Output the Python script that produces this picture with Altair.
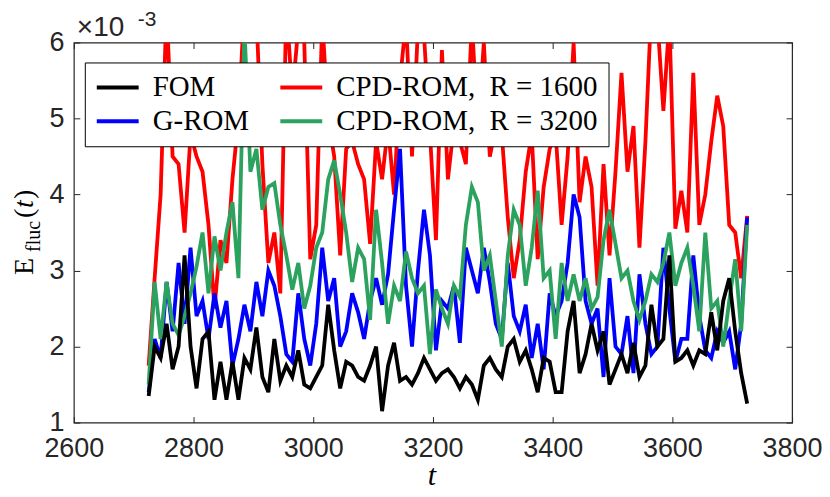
import altair as alt
import pandas as pd

# sample times (time units)
time = list(range(2725, 3726, 10))

fom = [1.35, 2.0, 1.85, 2.3, 1.7, 2.0, 3.2, 2.0, 1.45, 2.1,
       2.2, 1.3, 1.8, 1.3, 1.8, 1.3, 1.85, 1.7, 2.25, 1.6,
       1.4, 2.1, 1.55, 1.75, 1.6, 1.95, 1.5, 1.45, 1.6, 1.75,
       2.55, 1.95, 1.45, 1.8, 1.75, 1.6, 1.55, 1.75, 2.0, 1.15,
       1.75, 2.05, 1.55, 1.6, 1.5, 1.65, 1.85, 1.7, 1.55, 1.65,
       1.7, 1.6, 1.45, 1.6, 1.5, 1.3, 1.75, 1.85, 1.7, 1.6,
       2.0, 2.1, 1.8, 1.95, 1.7, 1.4, 1.85, 1.8, 1.4, 1.4,
       2.2, 2.6, 1.65, 1.9, 2.3, 1.95, 2.2, 1.5, 1.7, 1.9,
       1.65, 2.05, 1.6, 1.75, 2.55, 2.0, 2.1, 3.2, 1.8, 1.85,
       1.95, 1.75, 1.95, 1.9, 2.45, 1.95, 2.6, 2.9, 2.2, 1.65,
       1.25]

grom = [1.4, 2.1, 1.85, 2.85, 2.2, 3.1, 2.3, 3.3, 2.4, 2.6,
        2.1, 2.7, 2.25, 2.6, 1.75, 2.1, 2.55, 2.2, 2.85, 2.4,
        3.0, 2.8, 2.4, 1.9, 1.8, 2.7, 2.1, 1.75, 2.3, 3.3,
        2.6, 2.9, 2.0, 2.2, 2.7, 2.45, 2.1, 2.6, 2.9, 2.55,
        2.95, 3.8, 4.6, 2.8, 2.0, 3.0, 3.8, 3.2, 1.95, 2.6,
        2.5, 2.8, 2.05, 3.3, 3.0, 2.7, 3.3, 2.85, 2.3, 2.1,
        3.1, 2.4, 2.2, 2.55, 1.85, 2.3, 1.7, 2.7, 2.4, 2.6,
        3.1, 4.0, 3.7, 2.6, 2.3, 2.5, 1.6, 2.9, 2.0, 1.9,
        2.4, 1.65, 2.95, 2.3, 1.9, 2.0, 3.3, 2.5, 1.8, 2.1,
        2.1, 3.2, 2.4, 1.95, 1.85, 2.2, 2.05, 2.2, 1.7, 2.3,
        3.7]

cpd1600 = [1.75, 2.9, 4.0, 6.5, 4.5, 4.4, 3.5, 4.8, 4.5, 4.3,
           3.6, 2.5, 3.4, 3.1, 4.2, 5.0, 6.5, 6.5, 6.4, 4.4,
           3.1, 3.5, 2.7, 6.5, 5.3, 6.2, 6.0, 3.15, 3.6, 6.3,
           5.0, 4.5, 3.2, 4.6, 4.7, 4.4, 4.2, 3.35, 4.7, 4.2,
           4.9, 4.0, 5.5, 6.3, 4.5, 6.2, 6.1, 4.8, 3.4, 5.9,
           4.2, 4.9, 4.7, 4.4, 6.3, 4.8, 6.0, 4.5, 4.9, 4.8,
           3.7, 2.9, 3.4, 4.3, 4.8, 3.15, 4.1, 4.6, 4.8, 3.6,
           4.5, 6.0, 3.9, 4.5, 4.1, 2.8, 4.4, 3.2, 4.3, 5.6,
           4.3, 4.9, 3.3, 4.7, 6.5, 6.3, 5.1, 6.3, 3.55, 4.05,
           3.5, 5.6, 3.6, 4.0, 4.7, 5.3, 4.9, 3.6, 3.5, 2.9,
           3.72]

cpd3200 = [1.5, 2.85, 2.1, 2.85, 2.3, 2.15, 2.4, 2.7, 3.05, 3.5,
           2.7, 3.45, 3.0, 3.5, 3.9, 2.9, 6.2, 4.3, 4.6, 3.8,
           4.1, 4.15, 3.6, 3.2, 2.75, 3.1, 2.5, 2.8, 3.3, 3.5,
           4.2, 4.45, 4.0, 3.5, 2.85, 3.3, 3.15, 2.35, 3.8, 3.1,
           2.3, 2.8, 2.6, 3.25, 2.9, 2.7, 2.8, 1.9, 2.75, 2.5,
           2.3, 2.8, 2.65, 3.6, 4.1, 3.9, 3.0, 3.2, 2.6, 2.0,
           3.2, 3.8, 3.6, 2.8, 3.3, 4.05, 2.9, 3.0, 2.1, 3.1,
           2.6, 2.95, 2.6, 2.9, 2.5, 2.65, 3.4, 3.8, 3.35, 2.9,
           3.0, 2.6, 2.35, 2.6, 2.95, 2.85, 3.1, 3.5, 2.8, 3.1,
           3.3, 2.8, 2.2, 3.5, 2.5, 2.6, 2.0, 2.6, 3.15, 2.2,
           3.6]

x_ticks = [2600, 2800, 3000, 3200, 3400, 3600, 3800]
y_ticks = [1, 2, 3, 4, 5, 6]

N_FOM = "FOM"
N_GROM = "G-ROM"
N_1600 = "CPD-ROM,\u00a0 R = 1600"
N_3200 = "CPD-ROM,\u00a0 R = 3200"

rows = []
for name, vals in [(N_1600, cpd1600), (N_GROM, grom), (N_3200, cpd3200), (N_FOM, fom)]:
    for t, v in zip(time, vals):
        rows.append({"t": t, "E": v, "series": name})
df = pd.DataFrame(rows)

x_scale = alt.Scale(domain=[2600, 3800], nice=False, zero=False)
y_scale = alt.Scale(domain=[1, 6], nice=False, zero=False)
color_scale = alt.Scale(domain=[N_FOM, N_GROM, N_1600, N_3200],
                        range=["#000000", "#0000ff", "#ff0000", "#2ca25f"])

GRAY = "#262626"

legend = alt.Legend(
    title=None, orient="none", legendX=11, legendY=20, columns=2,
    fillColor="white", strokeColor="black", padding=10,
    symbolType="stroke", symbolSize=1764, symbolStrokeWidth=4,
    clipHeight=30, rowPadding=4, columnPadding=29,
    labelFont="Liberation Serif", labelFontSize=29, labelColor="black",
    labelOffset=12, labelLimit=500,
)

ax_bottom = alt.Axis(orient="bottom", values=x_ticks, format="d", title=None,
                     domain=False, grid=False, offset=-6, tickSize=6,
                     tickColor=GRAY, tickWidth=1, labelPadding=13,
                     labelFlush=False, labelFont="Liberation Sans",
                     labelFontSize=27, labelColor=GRAY)
ax_left = alt.Axis(orient="left", values=y_ticks, title=None, domain=False,
                   grid=False, offset=-6, tickSize=6, tickColor=GRAY,
                   tickWidth=1, labelPadding=10, labelFlush=False,
                   labelFont="Liberation Sans", labelFontSize=27,
                   labelColor=GRAY)
ax_top = alt.Axis(orient="top", values=x_ticks, title=None, domain=False,
                  grid=False, offset=-6, tickSize=6, tickColor=GRAY,
                  tickWidth=1, labels=False)
ax_right = alt.Axis(orient="right", values=y_ticks, title=None, domain=False,
                    grid=False, offset=-6, tickSize=6, tickColor=GRAY,
                    tickWidth=1, labels=False)

base = alt.Chart(df)


def line_layer(name, xa, ya):
    return base.transform_filter(alt.datum.series == name).mark_line(
        strokeWidth=3.8, clip=True
    ).encode(
        x=alt.X("t:Q", scale=x_scale, axis=xa),
        y=alt.Y("E:Q", scale=y_scale, axis=ya),
        color=alt.Color("series:N", scale=color_scale, legend=legend),
    )


l_red = line_layer(N_1600, ax_bottom, ax_left)
l_blue = line_layer(N_GROM, ax_top, ax_right)
l_green = line_layer(N_3200, None, None)
l_black = line_layer(N_FOM, None, None)

one = pd.DataFrame({"a": [0]})


def label(text, x, y, size, font="Liberation Serif", style="normal",
          angle=0, align="left", color="black"):
    return alt.Chart(one).mark_text(
        text=text, font=font, fontSize=size, fontStyle=style, angle=angle,
        align=align, baseline="alphabetic", color=color
    ).encode(x=alt.value(x), y=alt.value(y))


texts = [
    label("\u00d710", 3, -7, 28, font="Liberation Sans", color=GRAY),
    label("-3", 64, -17, 21, font="Liberation Sans", color=GRAY),
    label("t", 359, 444, 30, style="italic", align="center"),
    label("E", -41, 233, 28, angle=270),
    label("fluc", -34, 210, 20, angle=270),
    label("(", -41, 176, 28, angle=270),
    label("t", -41, 166, 28, style="italic", angle=270),
    label(")", -41, 157, 28, angle=270),
]

chart = alt.layer(l_red, l_blue, l_green, l_black, *texts).properties(
    width=720, height=381,
    autosize=alt.AutoSizeParams(type="none"),
    padding={"left": 66, "top": 34, "right": 30, "bottom": 66},
    background="white",
).configure_view(stroke=GRAY, strokeWidth=1.2)

chart.save("out.html", embed_options={"renderer": "svg", "actions": False})
